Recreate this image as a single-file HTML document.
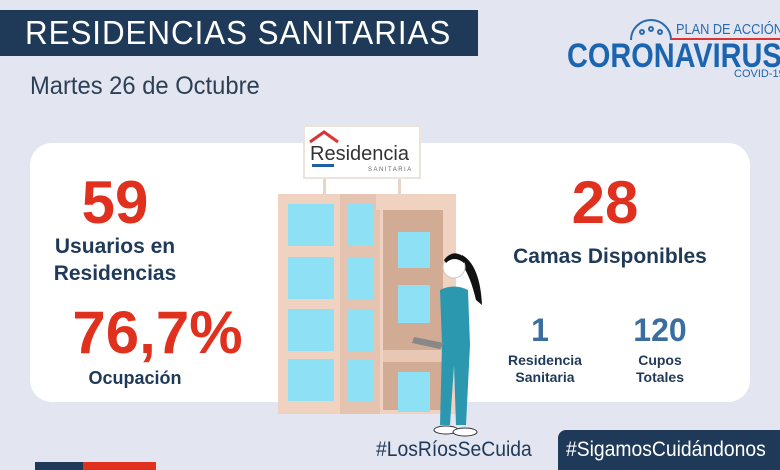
<!DOCTYPE html>
<html><head><meta charset="utf-8"><style>
body{margin:0;width:780px;height:470px;overflow:hidden;background:#e3e6f0;font-family:"Liberation Sans",sans-serif;position:relative}
.a{position:absolute;white-space:nowrap}
.t{text-align:center;font-weight:bold}
</style></head><body>
<div class="a" style="left:0;top:10px;width:478px;height:46px;background:#1f3a58"></div>
<div class="a" style="left:25px;top:14px;color:#fff;font-size:33px;letter-spacing:1px;transform:scaleX(0.95);transform-origin:0 0">RESIDENCIAS SANITARIAS</div>
<div class="a" style="left:30px;top:72px;color:#2b3f55;font-size:25px;transform:scaleX(0.95);transform-origin:0 0">Martes 26 de Octubre</div>
<svg class="a" style="left:626px;top:12px" width="50" height="30"><g fill="none" stroke="#2a6bb0" stroke-width="2"><path d="M5 28 A20 20 0 0 1 45 28"/><circle cx="16" cy="20" r="2"/><circle cx="25" cy="17" r="2"/><circle cx="34" cy="20" r="2"/></g></svg>
<div class="a" style="left:676px;top:21px;color:#2a6bb0;font-size:15px;transform:scaleX(0.85);transform-origin:0 0">PLAN DE ACCIÓN</div>
<div class="a" style="left:672px;top:38px;width:108px;height:2px;background:#d33"></div>
<div class="a" style="left:567px;top:37px;color:#1b65b0;font-size:34px;font-weight:bold;transform:scaleX(0.85);transform-origin:0 0">CORONAVIRUS</div>
<div class="a" style="left:734px;top:68px;color:#1b65b0;font-size:11px">COVID-19</div>
<div class="a" style="left:30px;top:143px;width:720px;height:259px;background:#fff;border-radius:22px"></div>
<div class="a t" style="left:60px;top:168px;width:110px;color:#e0301e;font-size:60px">59</div>
<div class="a t" style="left:50px;top:233px;width:130px;color:#1f3a58;font-size:21px;line-height:27px">Usuarios en<br>Residencias</div>
<div class="a t" style="left:45px;top:298px;width:225px;color:#e0301e;font-size:60px">76,7%</div>
<div class="a t" style="left:75px;top:368px;width:120px;color:#1f3a58;font-size:18px">Ocupación</div>
<div class="a t" style="left:550px;top:168px;width:110px;color:#e0301e;font-size:60px">28</div>
<div class="a t" style="left:500px;top:245px;width:220px;color:#1f3a58;font-size:21px">Camas Disponibles</div>
<div class="a t" style="left:510px;top:312px;width:60px;color:#3a6da0;font-size:32px">1</div>
<div class="a t" style="left:495px;top:352px;width:100px;color:#1f3a58;font-size:14px;line-height:17px">Residencia<br>Sanitaria</div>
<div class="a t" style="left:610px;top:312px;width:100px;color:#3a6da0;font-size:32px">120</div>
<div class="a t" style="left:610px;top:352px;width:100px;color:#1f3a58;font-size:14px;line-height:17px">Cupos<br>Totales</div>
<svg class="a" style="left:278px;top:122px" width="185" height="295">
<rect x="0" y="72" width="178" height="220" fill="#efd2c0"/>
<rect x="62" y="72" width="40" height="220" fill="#e4c4b0"/>
<rect x="105" y="88" width="60" height="200" fill="#d2ab94"/>
<rect x="98" y="72" width="78" height="16" fill="#efd2c0"/>
<g fill="#8ee0f4"><rect x="10" y="82" width="46" height="42"/><rect x="10" y="135" width="46" height="42"/><rect x="10" y="187" width="46" height="42"/><rect x="10" y="237" width="46" height="42"/>
<rect x="70" y="82" width="25" height="42"/><rect x="70" y="135" width="25" height="42"/><rect x="70" y="187" width="25" height="42"/><rect x="70" y="237" width="25" height="42"/>
<rect x="120" y="110" width="32" height="36"/><rect x="120" y="163" width="32" height="38"/><rect x="120" y="250" width="32" height="40"/></g>
<rect x="105" y="228" width="60" height="12" fill="#e8c8b4"/>
<rect x="45" y="55" width="3" height="18" fill="#e8d5c8"/><rect x="120" y="55" width="3" height="18" fill="#e8d5c8"/>
<rect x="26" y="4" width="116" height="52" fill="#fff" stroke="#ece4dc" stroke-width="2"/>
<path d="M32 20 L46 10 L60 20" stroke="#d33" stroke-width="3" fill="none"/>
<text x="32" y="38" font-family="Liberation Sans" font-size="20" fill="#333">Residencia</text>
<rect x="34" y="42" width="22" height="3" fill="#1f5fa8"/>
<text x="90" y="49" font-family="Liberation Sans" font-size="6" fill="#666" letter-spacing="1.5">SANITARIA</text>
</svg>
<svg class="a" style="left:410px;top:245px" width="80" height="195">
<path d="M52 10 Q70 20 72 60 L66 55 Q60 30 52 20Z" fill="#111"/>
<circle cx="44" cy="22" r="11" fill="#fff" stroke="#ccc"/>
<path d="M34 15 Q44 2 56 14 L54 18 Q44 10 36 18Z" fill="#111"/>
<path d="M30 45 Q44 38 58 45 L60 100 L56 180 L46 180 L44 120 L40 180 L30 180 L32 100 Z" fill="#2b98b0"/>
<path d="M4 92 L34 98 L30 104 L2 98Z" fill="#888"/>
<ellipse cx="36" cy="185" rx="12" ry="4" fill="#fff" stroke="#333"/>
<ellipse cx="55" cy="187" rx="12" ry="4" fill="#fff" stroke="#333"/>
</svg>
<div class="a" style="left:376px;top:438px;color:#1f3a58;font-size:21px;transform:scaleX(0.92);transform-origin:0 0">#LosRíosSeCuida</div>
<div class="a" style="left:558px;top:430px;width:222px;height:40px;background:#1f3a58;border-radius:8px 0 0 0"></div>
<div class="a" style="left:566px;top:438px;color:#fff;font-size:21px;transform:scaleX(0.92);transform-origin:0 0">#SigamosCuidándonos</div>
<div class="a" style="left:35px;top:462px;width:48px;height:8px;background:#1f3a58"></div>
<div class="a" style="left:83px;top:462px;width:73px;height:8px;background:#e0301e"></div>
</body></html>
